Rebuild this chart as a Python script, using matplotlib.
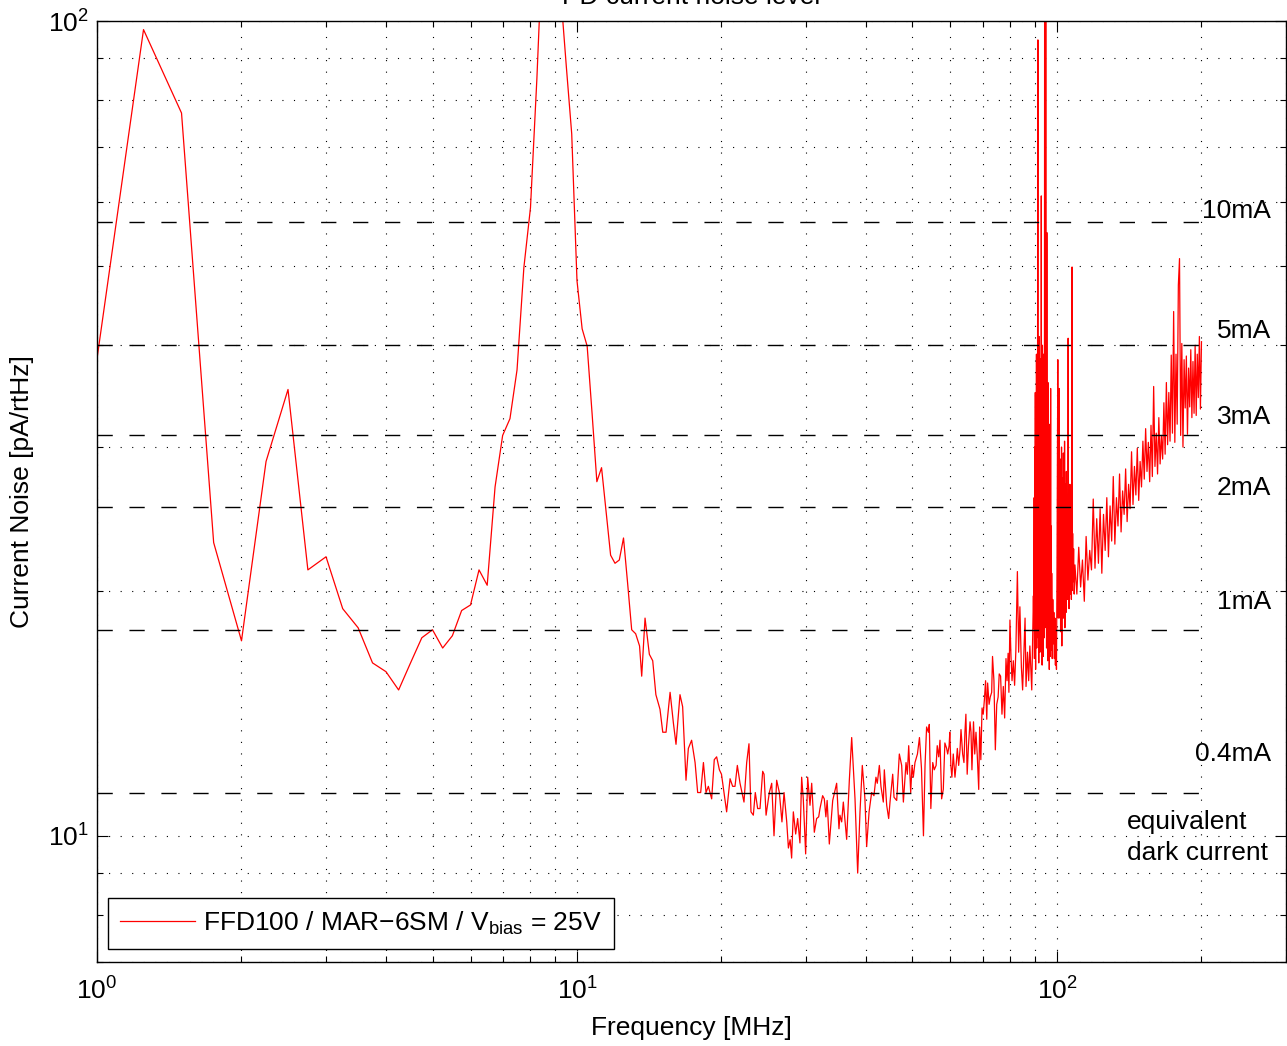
import matplotlib
matplotlib.use('Agg')
import matplotlib.pyplot as plt
from matplotlib.ticker import LogLocator, NullFormatter

plt.rcParams['font.family'] = ['Liberation Sans', 'DejaVu Sans']
plt.rcParams['mathtext.fontset'] = 'custom'
plt.rcParams['mathtext.rm'] = 'Liberation Sans'
plt.rcParams['mathtext.it'] = 'Liberation Sans:italic'
plt.rcParams['mathtext.bf'] = 'Liberation Sans:bold'

# ---------------- data ----------------
freq_low = [1.0, 1.25, 1.5, 1.75, 2.0, 2.25, 2.5, 2.75, 3.0, 3.25, 3.5, 3.75,
            4.0, 4.25, 4.5, 4.75, 5.0, 5.25, 5.5, 5.75, 6.0, 6.25, 6.5, 6.75,
            7.0, 7.25, 7.5, 7.75, 8.0, 8.25, 8.5, 8.75, 9.0, 9.25, 9.5, 9.75,
            10.0, 10.25, 10.5, 10.75, 11.0, 11.25, 11.5, 11.75, 12.0, 12.25,
            12.5, 12.75, 13.0, 13.25, 13.5]
noise_low = [38.5, 97.6, 77.1, 22.9, 17.35, 28.8, 35.3, 21.2, 22.0, 19.0, 18.0, 16.3,
             15.9, 15.1, 16.3, 17.5, 17.9, 17.0, 17.6, 18.9, 19.2, 21.2, 20.3, 26.8,
             31.0, 32.5, 37.3, 49.8, 59.0, 85.0, 130.0, 160.0, 140.0, 108.0, 88.0, 72.7,
             48.0, 41.9, 39.9, 33.0, 27.2, 28.3, 25.0, 22.1, 21.6, 21.8,
             23.2, 20.4, 17.9, 17.7, 17.1]

freq_mid = [13.64, 13.86, 14.15, 14.38, 14.6, 14.89, 15.09, 15.33, 15.63, 15.88,
            16.08, 16.39, 16.6, 16.87, 17.06, 17.33, 17.62, 17.84, 18.1, 18.34,
            18.57, 18.78, 19.08, 19.32, 19.54, 19.8, 20.0, 20.5, 20.84, 21.1,
            21.34, 21.58, 21.86, 22.28, 22.57, 22.82, 23.04, 23.3, 23.52, 23.79,
            24.06, 24.37, 24.53, 24.77, 25.16, 25.45, 25.73, 26.06, 26.4, 26.73,
            27.0, 27.35, 27.57, 27.8, 28.0, 28.23, 28.55, 28.82, 29.14, 29.38,
            29.61, 29.95, 30.24, 30.58, 30.83, 31.22, 31.57, 31.88, 32.08, 32.49,
            32.75, 33.0, 33.2, 33.55, 34.1, 34.75, 35.14, 35.3, 35.6, 35.88,
            36.46, 36.93, 37.35, 37.95, 38.44, 38.87, 39.3, 39.8, 40.13, 40.6,
            41.1, 41.56, 41.96, 42.23, 42.65, 42.98, 43.47, 43.68, 44.18, 44.6,
            44.89, 45.47, 45.76, 46.35, 46.94, 47.47, 47.86, 48.47, 48.78, 49.1,
            49.57, 49.89, 50.2, 50.6, 51.2, 51.7]
noise_mid = [15.7, 18.5, 16.7, 16.4, 14.9, 14.3, 13.4, 13.4, 15.0, 13.75,
             12.95, 14.9, 14.4, 11.7, 12.8, 13.1, 12.3, 11.3, 11.3, 12.3,
             11.3, 11.5, 11.1, 12.4, 12.5, 12.05, 11.9, 10.7, 11.75, 11.5,
             11.5, 12.2, 11.6, 11.0, 12.3, 12.97, 10.7, 10.6, 11.3, 10.8,
             10.8, 12.0, 11.9, 10.6, 11.3, 11.6, 10.0, 11.7, 11.3, 10.4,
             11.3, 10.4, 9.66, 9.89, 9.39, 10.7, 10.05, 10.5, 9.8, 11.8,
             11.1, 9.5, 11.8, 10.9, 11.6, 10.1, 10.5, 10.55, 10.8, 11.2,
             11.1, 10.55, 11.05, 9.77, 11.05, 11.6, 10.2, 10.6, 10.4, 11.0,
             9.9, 11.7, 13.2, 11.1, 9.0, 10.7, 12.2, 11.1, 9.7, 10.7,
             11.3, 11.2, 11.8, 11.6, 12.2, 11.5, 11.0, 12.05, 10.9, 10.5,
             11.0, 11.9, 11.15, 11.05, 12.6, 12.2, 11.0, 12.3, 11.9, 12.9,
             11.3, 12.2, 11.8, 12.3, 12.6, 13.2]

freq_rise = [52.2, 52.7, 53.1, 53.5, 53.95, 54.2, 54.6, 55.1, 55.5, 56.0,
             56.3, 56.7, 57.05, 57.5, 57.96, 58.4, 58.9, 59.2, 59.6, 59.8,
             60.1, 60.4, 60.8, 61.3, 61.7, 62.0, 62.4, 62.8, 63.1, 63.6,
             64.0, 64.3, 64.6, 65.0, 65.4, 65.9, 66.2, 66.5, 67.0, 67.4,
             67.8, 68.2, 68.7, 69.0, 69.4, 69.8, 70.2, 70.6, 71.0, 71.4,
             71.7, 72.2, 72.6, 73.1, 73.4, 73.9, 74.4, 74.9, 75.4, 75.8,
             76.3, 76.8, 77.3, 77.8, 78.3, 78.7, 79.1, 79.4, 79.8, 80.2,
             80.6, 81.1, 81.6, 82.1, 82.7, 83.2, 83.7, 84.3, 84.8, 85.4,
             85.8, 86.2, 86.8, 87.3, 87.8, 88.6, 89.3]
noise_rise = [12.1, 10.0, 12.2, 13.6, 13.4, 13.7, 10.8, 12.3, 12.05, 12.2,
              12.9, 12.5, 13.1, 11.1, 11.4, 13.0, 12.8, 12.6, 12.9, 13.4,
              12.2, 11.8, 12.6, 11.8, 12.3, 12.8, 12.2, 12.75, 13.5, 12.6,
              12.3, 13.4, 14.1, 11.9, 12.9, 13.8, 13.4, 12.05, 13.8, 12.6,
              13.4, 12.6, 11.4, 13.6, 12.4, 14.35, 14.1, 14.7, 15.5, 13.9,
              15.4, 14.5, 14.8, 15.0, 16.6, 15.5, 12.75, 14.5, 14.8, 15.8,
              15.7, 14.1, 15.25, 13.95, 16.5, 15.5, 16.75, 15.0, 18.4, 16.6,
              15.5, 16.4, 15.3, 16.9, 21.1, 16.8, 19.1, 16.1, 15.1, 17.1,
              18.5, 15.25, 16.8, 15.5, 17.1, 15.1, 19.7]

freq_spur = [89.5, 89.625, 89.75, 89.875, 90.0, 90.125, 90.25, 90.375, 90.5, 90.625,
             90.75, 90.875, 91.0, 91.125, 91.25, 91.375, 91.5, 91.625, 91.75, 91.875,
             92.0, 92.125, 92.25, 92.375, 92.5, 92.625, 92.75, 92.875, 93.0, 93.125,
             93.25, 93.375, 93.5, 93.625, 93.75, 93.875, 94.0, 94.125, 94.25, 94.375,
             94.5, 94.625, 94.75, 94.875, 95.0, 95.125, 95.25, 95.375, 95.5, 95.625,
             95.75, 95.875, 96.0, 96.125, 96.25, 96.375, 96.5, 96.625, 96.75, 96.875,
             97.0, 97.125, 97.25, 97.375, 97.5, 97.75, 98.0, 98.25, 98.5, 98.75,
             99.0, 99.25, 99.5, 99.75, 100.0, 100.2, 100.4, 100.6, 100.75, 100.9,
             101.0, 101.15, 101.3, 101.45, 101.6, 101.75, 101.9, 102.05, 102.2, 102.35,
             102.5, 102.65, 102.8, 102.95, 103.1, 103.25, 103.4, 103.55, 103.7, 103.85,
             104.0, 104.15, 104.3, 104.45, 104.6, 104.75, 104.9, 105.05, 105.2, 105.35,
             105.5, 105.65, 105.8, 105.95, 106.1, 106.25, 106.4, 106.55, 106.7, 106.85,
             107.0, 107.15, 107.3, 107.5, 107.65, 107.8, 108.0, 108.3, 108.6]
noise_spur = [18.0, 26.0, 16.5, 30.0, 17.2, 35.0, 16.0, 28.0, 19.5, 39.0,
              17.0, 33.0, 18.5, 42.0, 94.8, 17.5, 37.0, 16.3, 41.0, 19.0,
              30.0, 16.8, 38.5, 18.0, 27.0, 17.0, 61.0, 19.5, 36.0, 16.2,
              40.0, 18.5, 31.0, 16.6, 39.0, 20.0, 34.0, 17.5, 120.0, 18.0,
              40.0, 19.0, 150.0, 20.0, 38.0, 17.0, 55.0, 18.5, 33.0, 16.4,
              36.0, 19.0, 30.0, 17.2, 32.0, 16.0, 27.0, 18.5, 29.0, 16.6,
              35.4, 17.8, 24.0, 16.9, 21.0, 16.5, 19.5, 17.2, 18.8, 16.5,
              18.5, 16.2, 17.5, 16.0, 21.0, 28.0, 38.4, 18.5, 24.0, 19.0,
              35.4, 20.0, 27.0, 18.5, 29.0, 17.8, 26.5, 19.0, 30.0, 17.1,
              27.5, 18.5, 25.0, 20.0, 29.5, 18.5, 26.0, 19.5, 30.5, 18.0,
              25.5, 20.0, 27.0, 18.8, 28.0, 19.5, 24.5, 21.0, 26.0, 19.5,
              40.8, 20.0, 25.0, 19.0, 24.0, 20.5, 27.0, 19.8, 23.5, 20.2,
              26.0, 19.5, 24.5, 49.9, 20.0, 23.5, 20.5, 22.5, 19.8]

freq_high = [109, 110, 111, 112, 113, 114, 115, 116, 117, 118, 119, 120,
             121, 122, 123, 124, 125, 126, 127, 128, 129, 130, 131, 132,
             133, 134, 135, 136, 137, 138, 139, 140, 141, 142, 143, 144,
             145, 146, 147, 148, 149, 150, 151, 152, 153, 154, 155, 156,
             157, 158, 159, 160, 161, 162, 163, 164, 165, 166, 167, 168,
             169, 170, 171, 172, 173, 174, 175, 176, 177, 178, 179, 180,
             181, 182, 183, 184, 185, 186, 187, 188, 189, 190, 191, 192,
             193, 194, 195, 196, 197, 198, 199, 200]
noise_high = [21.5, 19.8, 22.6, 20.2, 21.8, 19.4, 23.3, 20.6, 22.4, 21.2, 25.9, 21.3,
              24.5, 21.6, 25.2, 21.0, 24.8, 22.4, 26.0, 22.0, 25.4, 23.0, 27.6, 22.8,
              26.0, 24.0, 27.8, 23.6, 26.5, 24.8, 28.2, 24.3, 27.0, 25.2, 29.6, 25.5,
              28.4, 26.2, 29.9, 25.8, 28.8, 26.8, 30.5, 27.4, 31.6, 28.0, 30.4, 27.2,
              31.9, 27.6, 35.6, 28.4, 31.2, 27.8, 32.6, 28.6, 31.0, 29.0, 34.0, 29.4,
              36.0, 30.2, 35.0, 30.5, 38.9, 31.2, 44.0, 30.4, 39.0, 32.0, 47.4, 51.1,
              31.0, 40.2, 30.0, 38.4, 33.5, 38.8, 31.1, 37.5, 33.6, 39.5, 32.6, 38.2,
              33.0, 40.0, 32.8, 39.0, 34.5, 41.0, 33.4, 40.4]

# equivalent dark-current (shot noise) levels
level_names = ['10mA', '5mA', '3mA', '2mA', '1mA', '0.4mA']
level_values = [56.6, 40.0, 31.0, 25.3, 17.9, 11.3]
level_span = [1, 200]
label_y = [57.3, 40.8, 32.0, 26.2, 18.97, 12.34]

freq = freq_low + freq_mid + freq_rise + freq_spur + freq_high
noise = noise_low + noise_mid + noise_rise + noise_spur + noise_high

# ---------------- figure ----------------
W, H = 1287, 1046
fig = plt.figure(figsize=(W / 100, H / 100), dpi=100)
ax = fig.add_axes([97 / W, 1 - 962 / H, 1189 / W, 941 / H])

ax.plot(freq, noise, color='#ff0000', lw=0.9, zorder=2,
        label='FFD100 / MAR\u22126SM / V$_{\\mathrm{bias}}$ = 25V')

for v in level_values:
    ax.plot(level_span, [v, v], color='black', lw=1.0, dashes=(11, 12), zorder=3)

ax.set_xscale('log')
ax.set_yscale('log')
ax.set_xlim(1, 300)
ax.set_ylim(7, 100)

ax.xaxis.set_major_locator(LogLocator(base=10, numticks=10))
ax.xaxis.set_minor_locator(LogLocator(base=10, subs=range(2, 10), numticks=20))
ax.yaxis.set_major_locator(LogLocator(base=10, numticks=10))
ax.yaxis.set_minor_locator(LogLocator(base=10, subs=range(2, 10), numticks=20))
ax.xaxis.set_minor_formatter(NullFormatter())
ax.yaxis.set_minor_formatter(NullFormatter())

ax.grid(True, which='both', color='black', linestyle=(0, (1, 9.4)), linewidth=0.8)
ax.set_axisbelow(True)

ax.tick_params(which='both', direction='in', top=True, right=True, width=0.8,
               labelsize=19)
ax.tick_params(which='major', length=8)
ax.tick_params(which='minor', length=4)
ax.tick_params(axis='x', which='major', pad=11)
ax.tick_params(axis='y', which='major', pad=6)
for s in ax.spines.values():
    s.set_linewidth(1.0)

ax.set_xlabel('Frequency [MHz]', fontsize=19, labelpad=8)
ax.set_ylabel('Current Noise [pA/rtHz]', fontsize=19, labelpad=10)
ax.set_title('PD current noise level', fontsize=19, pad=12.5)

for name, yv in zip(level_names, label_y):
    ax.text(279, yv, name, ha='right', va='baseline', fontsize=19)
ax.text(139.9, 10.2, 'equivalent', ha='left', va='baseline', fontsize=19)
ax.text(139.9, 9.33, 'dark current', ha='left', va='baseline', fontsize=19)

leg = ax.legend(loc='lower left', bbox_to_anchor=(0.00925, 0.0141),
                borderaxespad=0, fontsize=19, handlelength=2.85,
                handletextpad=0.3, borderpad=0.45, fancybox=False,
                framealpha=1, edgecolor='black')
leg.get_frame().set_linewidth(1.0)

fig.savefig('out.png', dpi=100)
